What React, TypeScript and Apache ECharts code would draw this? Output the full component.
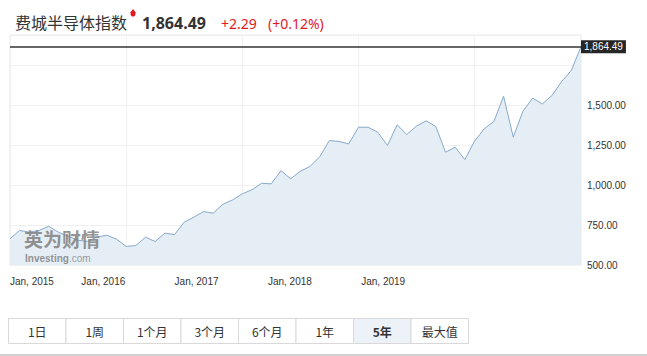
import React, { useEffect, useRef } from "react";
import * as echarts from "echarts";

const years = ["2015", "2016", "2017", "2018", "2019"];
const monthNames = ["01", "02", "03", "04", "05", "06", "07", "08", "09", "10", "11", "12"];
const categories: string[] = [];
years.forEach((y) => monthNames.forEach((m) => categories.push(`${y}-${m}`)));

const values = [
  664, 716, 705, 716, 742, 705, 680, 655, 648, 675, 686, 662,
  616, 622, 674, 647, 699, 690, 768, 799, 834, 824, 880, 907,
  945, 970, 1011, 1007, 1090, 1039, 1086, 1116, 1176, 1278, 1272, 1257,
  1361, 1361, 1330, 1247, 1376, 1316, 1368, 1401, 1366, 1205, 1236, 1159,
  1274, 1351, 1397, 1555, 1299, 1461, 1543, 1507, 1559, 1647, 1716, 1864.49,
];

const xTickLabels = ["Jan, 2015", "Jan, 2016", "Jan, 2017", "Jan, 2018", "Jan, 2019"];
const lastValue = 1864.49;
const titleName = "费城半导体指数";
const titleValue = "1,864.49";
const titleChange = "+2.29";
const titlePct = "(+0.12%)";
const rangeButtons = ["1日", "1周", "1个月", "3个月", "6个月", "1年", "5年", "最大值"];
const selectedRange = "5年";

const fmt = (v: number) =>
  v.toLocaleString("en-US", { minimumFractionDigits: 2, maximumFractionDigits: 2 });

export default function App() {
  const ref = useRef<HTMLDivElement>(null);
  useEffect(() => {
    if (!ref.current) return;
    const chart = echarts.init(ref.current, null, { renderer: "svg" });
    const btnX0 = 8;
    const btnW = 57.5;
    const btnY = 318;
    const btnH = 25;
    const buttons: any[] = [];
    rangeButtons.forEach((b, i) => {
      const sel = b === selectedRange;
      buttons.push({
        type: "rect",
        shape: { x: btnX0 + i * btnW + 0.5, y: btnY + 0.5, width: btnW, height: btnH },
        style: { fill: sel ? "#edf2f8" : "#ffffff", stroke: "#d9d9d9", lineWidth: 1 },
        z: 10,
      });
      buttons.push({
        type: "text",
        x: btnX0 + i * btnW + btnW / 2 + 0.5,
        y: btnY + btnH / 2 + 0.5,
        style: {
          text: b,
          fill: "#333",
          font: `${sel ? "bold " : ""}12px "Noto Sans CJK SC", sans-serif`,
          align: "center",
          verticalAlign: "middle",
        },
        z: 11,
      });
    });

    const fam = '"Liberation Sans", Arial, sans-serif';
    chart.setOption({
      animation: false,
      backgroundColor: "#ffffff",
      title: [
        {
          text: titleName,
          left: 10,
          top: 9,
          textStyle: { fontSize: 16, fontWeight: "normal", color: "#333", fontFamily: '"Noto Sans CJK SC", sans-serif' },
        },
        {
          text: titleValue,
          left: 137,
          top: 10,
          textStyle: { fontSize: 16, fontWeight: "bold", color: "#333", fontFamily: '"Noto Sans", sans-serif' },
        },
        {
          text: titleChange,
          left: 216,
          top: 11,
          textStyle: { fontSize: 14, fontWeight: "normal", color: "#e0191b", fontFamily: '"Noto Sans", sans-serif' },
        },
        {
          text: titlePct,
          left: 263,
          top: 11,
          textStyle: { fontSize: 14, fontWeight: "normal", color: "#e0191b", fontFamily: '"Noto Sans", sans-serif' },
        },
      ],
      grid: {
        left: 10,
        right: 66,
        top: 35,
        bottom: 91,
        show: true,
        borderColor: "#e8e8e8",
        borderWidth: 1,
        backgroundColor: "transparent",
      },
      xAxis: [
        {
          type: "category",
          data: categories,
          boundaryGap: false,
          axisLine: { show: false },
          axisTick: { show: false },
          axisLabel: { show: false },
          splitLine: {
            show: true,
            interval: (i: number) => i % 12 === 0,
            lineStyle: { color: "#f0f0f0", width: 1 },
          },
        },
        {
          type: "value",
          position: "bottom",
          min: 0,
          max: categories.length - 1,
          interval: 9.64,
          axisLine: { show: false },
          axisTick: { show: true, inside: true, length: 6, lineStyle: { color: "#ffffff" } },
          splitLine: { show: false },
          axisLabel: {
            show: true,
            margin: 11,
            color: "#333",
            fontSize: 10,
            fontFamily: fam,
            alignMinLabel: "left",
            showMaxLabel: false,
            formatter: (v: number) => {
              const i = Math.round(v / 9.64);
              return i < xTickLabels.length ? xTickLabels[i] : "";
            },
          },
        },
      ],
      yAxis: {
        type: "value",
        position: "right",
        min: 500,
        max: 1937.5,
        interval: 250,
        axisLine: { show: false },
        axisTick: { show: false },
        splitLine: { show: true, lineStyle: { color: "#f0f0f0", width: 1 } },
        axisLabel: {
          margin: 6,
          color: "#333",
          fontSize: 10,
          fontFamily: fam,
          formatter: (v: number) => (v <= 1500 ? fmt(v) : ""),
        },
      },
      series: [
        {
          type: "line",
          data: values,
          xAxisIndex: 0,
          yAxisIndex: 0,
          symbol: "none",
          lineStyle: { color: "#86a9cb", width: 1 },
          areaStyle: { color: "#e5edf5", opacity: 1 },
          markLine: {
            silent: true,
            symbol: ["none", "none"],
            data: [{ yAxis: lastValue }],
            lineStyle: { color: "#333333", width: 1.5, type: "solid" },
            label: {
              show: true,
              position: "end",
              distance: 0,
              formatter: () => fmt(lastValue),
              color: "#ffffff",
              backgroundColor: "#262626",
              padding: [2, 3, 1, 3],
              fontSize: 10,
              fontFamily: fam,
            },
          },
        },
      ],
      graphic: [
        {
          type: "circle",
          shape: { cx: 133, cy: 14, r: 2.5 },
          style: { fill: "#e0191b" },
        },
        {
          type: "polygon",
          shape: { points: [[130, 13], [136, 13], [133, 9]] },
          style: { fill: "#e0191b" },
        },
        {
          type: "text",
          x: 24,
          y: 229,
          style: {
            text: "英为财情",
            fill: "#7f7f7f",
            opacity: 0.85,
            font: 'bold 19px "Noto Sans CJK SC", sans-serif',
            lineHeight: 19,
          },
          z: 5,
        },
        {
          type: "text",
          x: 25,
          y: 253,
          style: {
            text: "{a|Investing}{b|.com}",
            rich: {
              a: { fill: "#7f7f7f", font: 'bold 10px "Liberation Sans", Arial, sans-serif', lineHeight: 10 },
              b: { fill: "#8a8a8a", font: '10px "Liberation Sans", Arial, sans-serif', lineHeight: 10 },
            },
            opacity: 0.85,
          },
          z: 5,
        },
        ...buttons,
        {
          type: "rect",
          shape: { x: 0, y: 354, width: 647, height: 2 },
          style: { fill: "#d0d0d0" },
        },
      ],
    });
    return () => chart.dispose();
  }, []);
  return (
    <div
      ref={ref}
      style={{ position: "fixed", left: 0, top: 0, width: 647, height: 356 }}
    />
  );
}
